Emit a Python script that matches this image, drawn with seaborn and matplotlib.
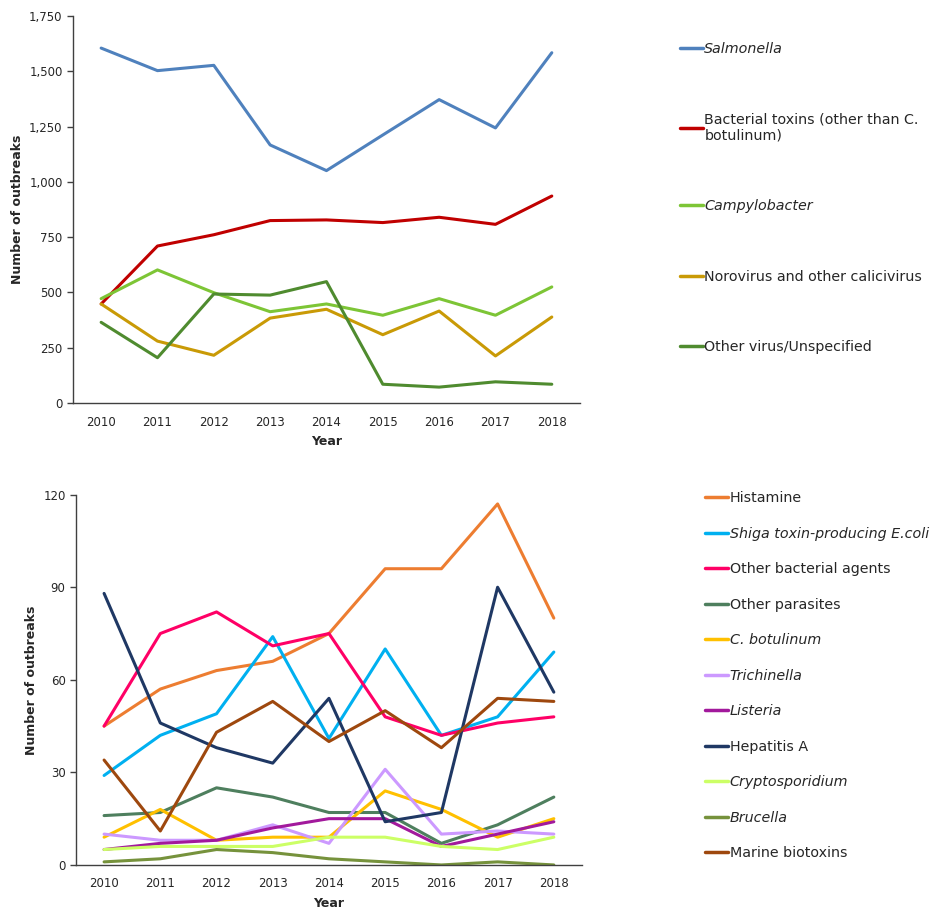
import matplotlib
matplotlib.use("Agg")
import matplotlib.pyplot as plt
import matplotlib.ticker as mticker
import numpy as np
import pandas as pd
import seaborn as sns

years = [2010, 2011, 2012, 2013, 2014, 2015, 2016, 2017, 2018]

# top panel: main causative agents
salmonella = [1605, 1503, 1527, 1167, 1051, 1212, 1372, 1244, 1584]
bact_toxins = [448, 710, 761, 825, 828, 816, 840, 808, 936]
campylobacter = [472, 602, 499, 413, 448, 397, 472, 397, 525]
norovirus = [448, 280, 216, 384, 424, 309, 416, 213, 389]
other_virus = [365, 205, 493, 488, 549, 85, 72, 96, 85]

# bottom panel: less frequent agents
histamine = [45, 57, 63, 66, 75, 96, 96, 117, 80]
stec = [29, 42, 49, 74, 41, 70, 42, 48, 69]
other_bact = [45, 75, 82, 71, 75, 48, 42, 46, 48]
other_parasites = [16, 17, 25, 22, 17, 17, 7, 13, 22]
c_botulinum = [9, 18, 8, 9, 9, 24, 18, 9, 15]
trichinella = [10, 8, 8, 13, 7, 31, 10, 11, 10]
listeria = [5, 7, 8, 12, 15, 15, 6, 10, 14]
hepatitis_a = [88, 46, 38, 33, 54, 14, 17, 90, 56]
cryptosporidium = [5, 6, 6, 6, 9, 9, 6, 5, 9]
brucella = [1, 2, 5, 4, 2, 1, 0, 1, 0]
marine_biotoxins = [34, 11, 43, 53, 40, 50, 38, 54, 53]

top_series = {
    "Salmonella": salmonella,
    "Bacterial toxins (other than C.\nbotulinum)": bact_toxins,
    "Campylobacter": campylobacter,
    "Norovirus and other calicivirus": norovirus,
    "Other virus/Unspecified": other_virus,
}
top_colors = ["#4F81BD", "#C00000", "#7DC536", "#C99A06", "#4F8B2F"]

bottom_series = {
    "Histamine": histamine,
    "Shiga toxin-producing E.coli": stec,
    "Other bacterial agents": other_bact,
    "Other parasites": other_parasites,
    "C. botulinum": c_botulinum,
    "Trichinella": trichinella,
    "Listeria": listeria,
    "Hepatitis A": hepatitis_a,
    "Cryptosporidium": cryptosporidium,
    "Brucella": brucella,
    "Marine biotoxins": marine_biotoxins,
}
bottom_colors = ["#ED7D31", "#00B0F0", "#FF0066", "#4E7F5E", "#FFC000", "#CC99FF",
                 "#A2199C", "#1F3864", "#CCFF66", "#76923C", "#9E480E"]

italic = {"Salmonella", "Campylobacter", "Shiga toxin-producing E.coli", "C. botulinum",
          "Trichinella", "Listeria", "Cryptosporidium", "Brucella"}


def to_long(series):
    rows = []
    for name, vals in series.items():
        for i, v in enumerate(vals):
            rows.append({"agent": name, "pos": i, "value": v})
    return pd.DataFrame(rows)


sns.set_style("white")
plt.rcParams["font.family"] = ["DejaVu Sans"]

fig = plt.figure(figsize=(9.38, 9.10), dpi=100)
ax1 = fig.add_axes([0.0778, 0.5571, 0.5405, 0.4253])
ax2 = fig.add_axes([0.081, 0.0495, 0.5394, 0.4069])


def style_axis(ax, ymax, ystep, fmt):
    ax.set_xlim(-0.5, 8.5)
    ax.set_ylim(0, ymax)
    ax.set_xticks(range(len(years)))
    ax.set_xticklabels([str(y) for y in years])
    ax.set_xticks(np.arange(-0.5, 9, 1), minor=True)
    ax.tick_params(axis="x", which="major", length=0, labelsize=8.5, pad=9)
    ax.tick_params(axis="x", which="minor", length=5, width=1, color="#404040", direction="out")
    ax.set_yticks(np.arange(0, ymax + 1, ystep))
    ax.yaxis.set_major_formatter(mticker.FuncFormatter(fmt))
    ax.tick_params(axis="y", length=4, width=1, color="#404040", direction="out", labelsize=8.5, left=True)
    for s in ["top", "right"]:
        ax.spines[s].set_visible(False)
    for s in ["left", "bottom"]:
        ax.spines[s].set_color("#404040")
        ax.spines[s].set_linewidth(1)
    ax.set_xlabel("Year", fontsize=9, fontweight="bold", labelpad=5)
    ax.set_ylabel("Number of outbreaks", fontsize=9, fontweight="bold")


def add_legend(ax, colors, names, anchor, spacing):
    handles = [plt.Line2D([], [], color=c, lw=2.5) for c in colors]
    leg = ax.legend(handles, names, loc="upper left", bbox_to_anchor=anchor,
                    bbox_transform=fig.transFigure, frameon=False, fontsize=10.3,
                    handlelength=1.6, handletextpad=0.1, labelspacing=spacing,
                    borderaxespad=0, borderpad=0)
    for t in leg.get_texts():
        if t.get_text() in italic:
            t.set_style("italic")


df_top = to_long(top_series)
sns.lineplot(data=df_top, x="pos", y="value", hue="agent", palette=top_colors,
             lw=2.2, ax=ax1, legend=False, sort=False)
style_axis(ax1, 1750, 250, lambda v, p: f"{int(v):,}")
add_legend(ax1, top_colors, list(top_series.keys()), (0.725, 0.954), 3.95)

df_bot = to_long(bottom_series)
sns.lineplot(data=df_bot, x="pos", y="value", hue="agent", palette=bottom_colors,
             lw=2.2, ax=ax2, legend=False, sort=False)
style_axis(ax2, 120, 30, lambda v, p: f"{int(v)}")
add_legend(ax2, bottom_colors, list(bottom_series.keys()), (0.752, 0.460), 1.5)

fig.savefig("out.png", dpi=100)
